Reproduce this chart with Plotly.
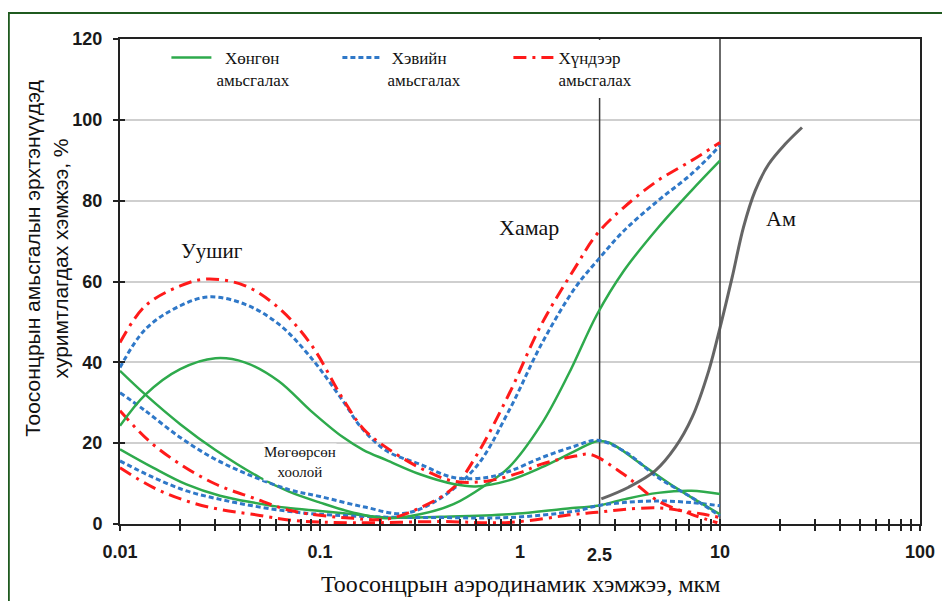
import math
import plotly.graph_objects as go

# ---------------- data ----------------
# Уушиг (alveolar) curves
GA_X = [0.01, 0.0134, 0.02, 0.03, 0.042, 0.062, 0.09, 0.13, 0.165, 0.215, 0.316, 0.465, 0.6, 0.88, 1.28, 1.89, 2.43, 2.8, 4.05, 6.0, 10]
GA_Y = [24.3, 32, 38.3, 41, 40, 35.4, 28, 21.5, 18.3, 15.8, 12.3, 9.9, 9.3, 10.8, 14, 18.1, 20.5, 20.1, 14.8, 9, 2.4]
BA_X = [0.01, 0.0134, 0.02, 0.028, 0.042, 0.062, 0.09, 0.13, 0.16, 0.215, 0.316, 0.465, 0.68, 0.88, 1.28, 1.89, 2.43, 3.3, 4.9, 7.2, 10]
BA_Y = [38.7, 48.2, 54, 56.2, 54.4, 49.5, 41.2, 30.5, 24, 18.1, 14.8, 11.5, 11.5, 13, 16.4, 19.3, 20.7, 18.1, 11.5, 6.6, 2]
RA_X = [0.01, 0.0134, 0.02, 0.027, 0.042, 0.062, 0.09, 0.13, 0.165, 0.215, 0.316, 0.465, 0.68, 1.0, 1.28, 1.89, 2.25, 3.3, 4.9, 7.2, 9.7]
RA_Y = [44.9, 54, 58.9, 60.6, 59, 53.5, 44.5, 31, 23.5, 18.9, 13.9, 10.6, 10.6, 12.7, 14.8, 16.8, 17.2, 12.3, 5.7, 2.4, 0.3]

# Хамар (nose) curves
GN_X = [0.01, 0.0134, 0.02, 0.03, 0.05, 0.07, 0.1, 0.147, 0.215, 0.316, 0.465, 0.68, 0.88, 1.28, 1.75, 2.43, 3.3, 4.9, 7.2, 10]
GN_Y = [37.9, 32, 24.7, 18.3, 11.5, 8, 5.3, 2.8, 1.4, 2.4, 4.9, 9.8, 14, 24.7, 37.1, 51.9, 62.6, 73.3, 82.5, 89.9]
BN_X = [0.01, 0.0134, 0.02, 0.03, 0.046, 0.07, 0.1, 0.167, 0.26, 0.38, 0.6, 0.88, 1.28, 1.89, 2.43, 3.3, 4.9, 7.2, 10]
BN_Y = [32.5, 28, 21.4, 16, 11.8, 8.5, 6.8, 4.2, 2.6, 5.7, 14, 28, 44.5, 58.5, 65.1, 72.5, 80, 86.6, 93.6]
RN_X = [0.01, 0.014, 0.02, 0.03, 0.046, 0.073, 0.147, 0.215, 0.316, 0.465, 0.61, 0.88, 1.28, 1.89, 2.43, 3.3, 4.9, 7.2, 10]
RN_Y = [28, 20.5, 14.8, 9.9, 6.5, 3.2, 1.4, 1.2, 4, 9, 17.2, 32.1, 49.4, 63.5, 71.8, 78.3, 85, 89.9, 94.4]

# Мөгөөрсөн хоолой (tracheobronchial) curves
GT_X = [0.01, 0.0147, 0.0215, 0.0316, 0.0464, 0.068, 0.1, 0.147, 0.215, 0.4, 0.88, 1.89, 2.43, 3.3, 4.9, 7.2, 10]
GT_Y = [18.5, 13.9, 9.8, 7, 5.3, 4, 3.2, 2.4, 1.6, 1.8, 2.4, 4, 4.5, 6.1, 7.7, 8.2, 7.4]
BT_X = [0.01, 0.0147, 0.0215, 0.0316, 0.046, 0.068, 0.1, 0.215, 0.4, 0.88, 1.89, 2.43, 3.3, 4.9, 7.2, 10]
BT_Y = [15.6, 11.5, 8.2, 6.1, 4.5, 3.2, 2.4, 1.7, 1.6, 1.6, 3.2, 4.5, 5.3, 5.7, 5.3, 4.5]
RT_X = [0.01, 0.0147, 0.0215, 0.0316, 0.046, 0.073, 0.147, 0.4, 0.88, 1.89, 2.43, 3.3, 4.9, 6.6, 8.3, 10]
RT_Y = [13.9, 9, 5.7, 3.6, 2.4, 0.9, 0.3, 0.6, 0.4, 2.4, 2.9, 3.6, 4, 3.2, 2.4, 1.6]

# Ам (mouth) curve
M_X = [2.55, 3.49, 4.75, 5.98, 7.24, 8.78, 10.1, 11.5, 13.1, 15, 17.5, 21.2, 25.7]
M_Y = [6.2, 9.1, 13.2, 19, 26.3, 37.9, 49.4, 61, 73.4, 82.5, 89, 94, 98.1]

VLINES = [2.5, 10]
X_TICKS = [0.01, 0.1, 1, 10, 100]
X_TICKTEXT = ["0.01", "0.1", "1", "10", "100"]
Y_TICKS = [0, 20, 40, 60, 80, 100, 120]
MINOR_X = [m * 10 ** e for e in (-2, -1, 0, 1) for m in range(2, 10)]

LEGEND_NAMES = ["\u00a0\u00a0Хөнгөн<br>амьсгалах", "\u00a0Хэвийн<br>амьсгалах", "Хүндээр<br>амьсгалах"]

GREEN = "#2eaa4c"
BLUE = "#2f78c8"
RED = "#ff1a1a"
GRAY = "#555555"

SERIF = "Liberation Serif, Times New Roman, serif"
SANS = "Liberation Sans, Arial, sans-serif"

GREEN_LINE = dict(color=GREEN, width=2.5, shape="spline", smoothing=1.0)
BLUE_LINE = dict(color=BLUE, width=3, dash="5px,3px", shape="spline", smoothing=1.0)
RED_LINE = dict(color=RED, width=3, dash="13px,6px,3px,6px", shape="spline", smoothing=1.0)

fig = go.Figure()

# vertical reference lines at 2.5 and 10
for v in VLINES:
    fig.add_trace(go.Scatter(x=[v, v], y=[0, 120], mode="lines",
                             line=dict(color="#3a3a3a", width=1.5),
                             showlegend=False, hoverinfo="skip"))

series = [
    (GT_X, GT_Y, GREEN_LINE, None), (BT_X, BT_Y, BLUE_LINE, None), (RT_X, RT_Y, RED_LINE, None),
    (GN_X, GN_Y, GREEN_LINE, None), (BN_X, BN_Y, BLUE_LINE, None), (RN_X, RN_Y, RED_LINE, None),
    (GA_X, GA_Y, GREEN_LINE, LEGEND_NAMES[0]), (BA_X, BA_Y, BLUE_LINE, LEGEND_NAMES[1]),
    (RA_X, RA_Y, RED_LINE, LEGEND_NAMES[2]),
]
for xs, ys, ln, name in series:
    fig.add_trace(go.Scatter(x=xs, y=ys, mode="lines", line=ln, name=name or "",
                             showlegend=name is not None, hoverinfo="skip"))

fig.add_trace(go.Scatter(x=M_X, y=M_Y, mode="lines",
                         line=dict(color=GRAY, width=3, shape="spline", smoothing=1.0),
                         opacity=0.9, showlegend=False, hoverinfo="skip"))

# invisible trace to anchor overlay axes (inside halves of crossing ticks)
fig.add_trace(go.Scatter(x=[0.01], y=[0], xaxis="x2", yaxis="y2", mode="markers",
                         marker=dict(opacity=0), showlegend=False, hoverinfo="skip"))

fig.update_layout(
    width=950, height=601,
    margin=dict(l=112, r=38, t=31, b=85),
    paper_bgcolor="white", plot_bgcolor="white",
    xaxis=dict(type="log", range=[-2, 2], tickvals=X_TICKS, ticktext=X_TICKTEXT,
               ticks="outside", ticklen=5, tickwidth=1.5, tickcolor="#222",
               minor=dict(tickvals=MINOR_X, ticks="outside", ticklen=5, tickwidth=1.5,
                          tickcolor="#222", showgrid=False),
               showgrid=False, showline=True, linecolor="#222", linewidth=2, mirror=True,
               tickfont=dict(family=SANS, size=18, color="#1a1a1a", weight="bold"),
               ticklabelstandoff=5, zeroline=False),
    yaxis=dict(range=[0, 120], tickvals=Y_TICKS, ticks="outside", ticklen=5, tickwidth=1.5,
               tickcolor="#222", showgrid=True, gridcolor="#cfcfcf", gridwidth=1.6,
               showline=True, linecolor="#222", linewidth=2, mirror=True,
               tickfont=dict(family=SANS, size=18, color="#1a1a1a", weight="bold"),
               ticklabelstandoff=7, zeroline=False),
    xaxis2=dict(type="log", range=[-2, 2], overlaying="x", anchor="y", side="bottom",
                tickvals=X_TICKS, ticks="inside", ticklen=5, tickwidth=1.5, tickcolor="#222",
                minor=dict(tickvals=MINOR_X, ticks="inside", ticklen=5, tickwidth=1.5,
                           tickcolor="#222", showgrid=False),
                showticklabels=False, showgrid=False, showline=False, zeroline=False),
    yaxis2=dict(range=[0, 120], overlaying="y", anchor="x", side="left", tickvals=Y_TICKS,
                ticks="inside", ticklen=5, tickwidth=1.5, tickcolor="#222",
                showticklabels=False, showgrid=False, showline=False, zeroline=False),
    legend=dict(orientation="h", x=0.058, y=0.998, xanchor="left", yanchor="top",
                bgcolor="white", font=dict(family=SERIF, size=17, color="#111"),
                entrywidth=116, entrywidthmode="pixels", valign="top",
                itemwidth=40, tracegroupgap=0),
    showlegend=True,
)

# axis titles
fig.add_annotation(text="Тоосонцрын аэродинамик хэмжээ, мкм", xref="paper", yref="paper",
                   x=0.5, y=-0.124, xanchor="center", yanchor="middle", showarrow=False,
                   font=dict(family=SERIF, size=24, color="#111"))
fig.add_annotation(text="Тоосонцрын амьсгалын эрхтэнүүдэд<br>хуримтлагдах хэмжээ, %",
                   xref="paper", yref="paper", x=-0.0925, y=0.547, textangle=-90,
                   xanchor="center", yanchor="middle", showarrow=False,
                   font=dict(family=SANS, size=21, color="#111"))

# 2.5 label
fig.add_annotation(text="<b>2.5</b>", xref="x", yref="paper", x=math.log10(2.5), y=-0.064,
                   xanchor="center", yanchor="middle", showarrow=False,
                   font=dict(family=SANS, size=18, color="#1a1a1a"))

# region labels
LABELS = [("Уушиг", 0.0288, 67.6, 21), ("Хамар", 1.11, 73.3, 22), ("Ам", 20.2, 75.5, 22),
          ("Мөгөөрсөн<br>хоолой", 0.079, 15.3, 15)]
for t, lx, ly, fs in LABELS:
    fig.add_annotation(text=t, x=math.log10(lx), y=ly, xref="x", yref="y", showarrow=False,
                       xanchor="center", yanchor="middle",
                       bgcolor="white" if fs < 18 else None, borderpad=0,
                       font=dict(family=SERIF, size=fs, color="#111"))

# green outer frame
fig.add_shape(type="rect", xref="paper", yref="paper", x0=-0.139, x1=1.2, y0=-0.3, y1=1.0536,
              line=dict(color="#1f5a1f", width=2), fillcolor="rgba(0,0,0,0)", layer="above")

fig.write_html("out.html")
